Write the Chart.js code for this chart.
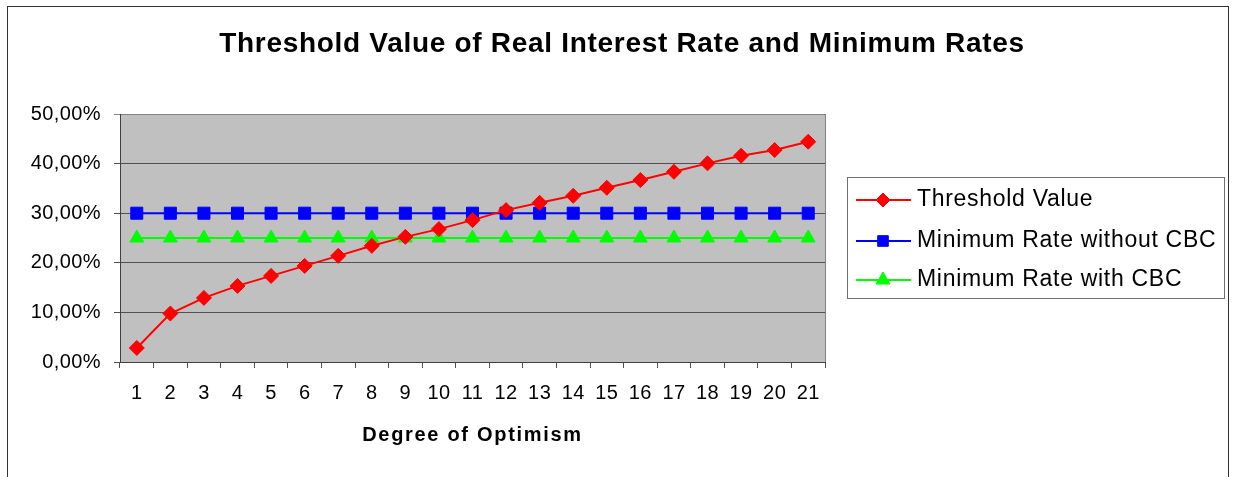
<!DOCTYPE html>
<html>
<head>
<meta charset="utf-8">
<title>Threshold Value of Real Interest Rate and Minimum Rates</title>
<script src="https://cdn.jsdelivr.net/npm/chart.js@4/dist/chart.umd.min.js"></script>
<style>
    body { margin: 0; background: #ffffff; }
    canvas { display: block; }
</style>
</head>
<body>
<canvas id="chart" width="1233" height="477"></canvas>
<script>
// chart data
const chartTitle = 'Threshold Value of Real Interest Rate and Minimum Rates';
const xAxisTitle = 'Degree of Optimism';
const degrees = ['1', '2', '3', '4', '5', '6', '7', '8', '9', '10', '11', '12', '13', '14', '15', '16', '17', '18', '19', '20', '21'];
const thresholdValue = [0.0283, 0.0977, 0.1292, 0.1534, 0.1736, 0.1938, 0.2140, 0.2342, 0.2523, 0.2679, 0.2860,
    0.3062, 0.3210, 0.3351, 0.3512, 0.3668, 0.3835, 0.4005, 0.4158, 0.4273, 0.4441];
const minRateWithoutCBC = [0.30, 0.30, 0.30, 0.30, 0.30, 0.30, 0.30, 0.30, 0.30, 0.30, 0.30,
    0.30, 0.30, 0.30, 0.30, 0.30, 0.30, 0.30, 0.30, 0.30, 0.30];
const minRateWithCBC = [0.25, 0.25, 0.25, 0.25, 0.25, 0.25, 0.25, 0.25, 0.25, 0.25, 0.25,
    0.25, 0.25, 0.25, 0.25, 0.25, 0.25, 0.25, 0.25, 0.25, 0.25];
const seriesNames = ['Threshold Value', 'Minimum Rate without CBC', 'Minimum Rate with CBC'];
const yMin = 0;
const yMax = 0.5;
const yStep = 0.1;

const fontFamily = "'Liberation Sans', Arial, Helvetica, sans-serif";

// 0.3 -> "30,00%"
function percentLabel(value) {
    return (value * 100).toFixed(2).replace('.', ',') + '%';
}

// grey plot area, frame, title and the boxed legend
const excelLook = {
    id: 'excelLook',
    afterUpdate(chart) {
        // the axis title in the picture is spaced out a bit more than the ticks
        const xScale = chart.scales.x;
        if (xScale && !xScale._spaced) {
            const drawTitle = xScale.drawTitle.bind(xScale);
            xScale.drawTitle = function () {
                xScale.ctx.save();
                xScale.ctx.letterSpacing = '1.7px';
                drawTitle();
                xScale.ctx.restore();
            };
            xScale._spaced = true;
        }
    },
    beforeDraw(chart) {
        const ctx = chart.ctx;
        const area = chart.chartArea;
        ctx.letterSpacing = '0.4px';
        ctx.save();
        ctx.fillStyle = '#ffffff';
        ctx.fillRect(0, 0, chart.width, chart.height);
        ctx.fillStyle = '#c0c0c0';
        ctx.fillRect(area.left, area.top, area.right - area.left, area.bottom - area.top);
        ctx.restore();
    },
    afterDatasetsDraw(chart) {
        const ctx = chart.ctx;
        const area = chart.chartArea;
        ctx.save();
        // right edge of the plot area
        ctx.strokeStyle = '#808080';
        ctx.lineWidth = 1;
        ctx.beginPath();
        ctx.moveTo(Math.round(area.right) + 0.5, area.top);
        ctx.lineTo(Math.round(area.right) + 0.5, area.bottom);
        ctx.stroke();
        ctx.restore();
    },
    afterDraw(chart) {
        const ctx = chart.ctx;
        ctx.save();

        // outer frame
        ctx.strokeStyle = '#333333';
        ctx.lineWidth = 1;
        ctx.strokeRect(7.5, 6.5, 1221, 520);

        // title
        ctx.fillStyle = '#000000';
        ctx.font = 'bold 28px ' + fontFamily;
        ctx.letterSpacing = '0.7px';
        ctx.textAlign = 'center';
        ctx.textBaseline = 'alphabetic';
        ctx.fillText(chartTitle, 622, 52);

        // legend box
        const box = { left: 847, top: 177, right: 1224, bottom: 298 };
        ctx.fillStyle = '#ffffff';
        ctx.fillRect(box.left, box.top, box.right - box.left, box.bottom - box.top);
        ctx.strokeStyle = '#707070';
        ctx.strokeRect(box.left + 0.5, box.top + 0.5, box.right - box.left, box.bottom - box.top);

        const rows = [200, 241, 280];
        chart.data.datasets.forEach(function (ds, i) {
            const y = rows[i];
            ctx.strokeStyle = ds.borderColor;
            ctx.fillStyle = ds.borderColor;
            ctx.lineWidth = 2;
            ctx.beginPath();
            ctx.moveTo(856, y);
            ctx.lineTo(911, y);
            ctx.stroke();
            ctx.lineWidth = 1;
            Chart.helpers.drawPoint(ctx, {
                pointStyle: ds.pointStyle,
                radius: ds.legendRadius,
                rotation: 0,
                borderWidth: 1
            }, 883, y);
            ctx.fillStyle = '#000000';
            ctx.font = '23px ' + fontFamily;
            ctx.letterSpacing = '0.7px';
            ctx.textAlign = 'left';
            ctx.textBaseline = 'alphabetic';
            ctx.fillText(ds.label, 917, y + 6);
        });

        ctx.restore();
        ctx.letterSpacing = '0px';
    }
};

const ctx = document.getElementById('chart');

new Chart(ctx, {
    type: 'line',
    data: {
        labels: degrees,
        datasets: [
            {
                label: seriesNames[0],
                data: thresholdValue,
                borderColor: '#ff0000',
                backgroundColor: '#ff0000',
                borderWidth: 2,
                pointStyle: 'rectRot',
                pointRadius: 7.5,
                legendRadius: 7,
                pointBorderWidth: 1,
                tension: 0
            },
            {
                label: seriesNames[1],
                data: minRateWithoutCBC,
                borderColor: '#0000ff',
                backgroundColor: '#0000ff',
                borderWidth: 2,
                pointStyle: 'rect',
                pointRadius: 8.5,
                legendRadius: 7.5,
                pointBorderWidth: 1,
                tension: 0
            },
            {
                label: seriesNames[2],
                data: minRateWithCBC,
                borderColor: '#00ff00',
                backgroundColor: '#00ff00',
                borderWidth: 2,
                pointStyle: 'triangle',
                pointRadius: 8,
                legendRadius: 8,
                pointBorderWidth: 1,
                tension: 0
            }
        ]
    },
    options: {
        responsive: false,
        animation: false,
        devicePixelRatio: 1,
        layout: {
            padding: { top: 114, right: 408, bottom: 0, left: 0 }
        },
        plugins: {
            legend: { display: false },
            title: { display: false },
            tooltip: { enabled: false }
        },
        scales: {
            x: {
                offset: true,
                grid: {
                    offset: true,
                    drawOnChartArea: false,
                    drawTicks: true,
                    tickLength: 6,
                    color: '#505050'
                },
                border: { display: true, color: '#404040', width: 1 },
                ticks: {
                    color: '#000000',
                    padding: 13,
                    maxRotation: 0,
                    autoSkip: false,
                    font: { family: fontFamily, size: 20 }
                },
                title: {
                    display: true,
                    text: xAxisTitle,
                    color: '#000000',
                    padding: { top: 0, bottom: 30 },
                    font: { family: fontFamily, size: 20, weight: 'bold' }
                },
                afterFit(scale) {
                    scale.height = 115;
                }
            },
            y: {
                min: yMin,
                max: yMax,
                grid: {
                    drawTicks: true,
                    tickLength: 6,
                    color: function (c) {
                        return c.tick && c.tick.value >= yMax ? '#808080' : '#505050';
                    }
                },
                border: { display: true, color: '#404040', width: 1 },
                ticks: {
                    stepSize: yStep,
                    color: '#000000',
                    padding: 13,
                    font: { family: fontFamily, size: 20 },
                    callback: function (value) {
                        return percentLabel(value);
                    }
                },
                afterFit(scale) {
                    scale.width = 120;
                }
            }
        }
    },
    plugins: [excelLook]
});
</script>
</body>
</html>
